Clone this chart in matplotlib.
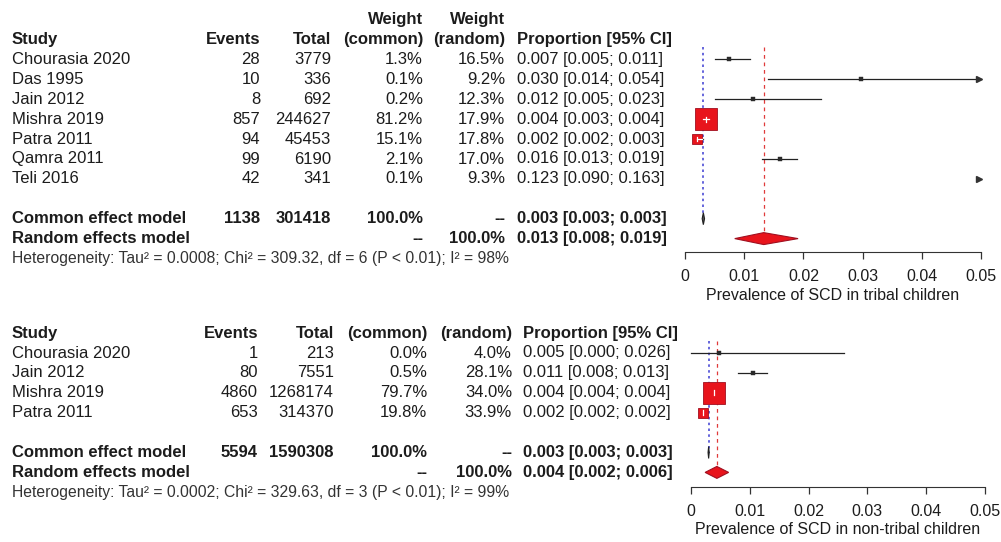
import numpy as np
import matplotlib
matplotlib.use("Agg")
import matplotlib.pyplot as plt
from matplotlib.patches import Polygon

plt.rcParams['font.family'] = ['Liberation Sans', 'DejaVu Sans']

# ---- data: tribal children ----
tr_study = ["Chourasia 2020", "Das 1995", "Jain 2012", "Mishra 2019",
            "Patra 2011", "Qamra 2011", "Teli 2016"]
tr_events = [28, 10, 8, 857, 94, 99, 42]
tr_total = [3779, 336, 692, 244627, 45453, 6190, 341]
tr_w_common = [1.3, 0.1, 0.2, 81.2, 15.1, 2.1, 0.1]
tr_w_random = [16.5, 9.2, 12.3, 17.9, 17.8, 17.0, 9.3]
tr_lower = [0.005, 0.014, 0.005, 0.003, 0.002, 0.013, 0.090]
tr_upper = [0.011, 0.054, 0.023, 0.004, 0.003, 0.019, 0.163]
tr_common = (0.0031, 0.0029, 0.0033)     # estimate, lower, upper
tr_random = (0.0133, 0.0084, 0.0191)
tr_het = "Heterogeneity: Tau² = 0.0008; Chi² = 309.32, df = 6 (P < 0.01); I² = 98%"
tr_label = "Prevalence of SCD in tribal children"

# ---- data: non-tribal children ----
nt_study = ["Chourasia 2020", "Jain 2012", "Mishra 2019", "Patra 2011"]
nt_events = [1, 80, 4860, 653]
nt_total = [213, 7551, 1268174, 314370]
nt_w_common = [0.0, 0.5, 79.7, 19.8]
nt_w_random = [4.0, 28.1, 34.0, 33.9]
nt_lower = [0.000, 0.008, 0.004, 0.002]
nt_upper = [0.026, 0.013, 0.004, 0.002]
nt_common = (0.0030, 0.0029, 0.0031)
nt_random = (0.0044, 0.0024, 0.0064)
nt_het = "Heterogeneity: Tau² = 0.0002; Chi² = 329.63, df = 3 (P < 0.01); I² = 99%"
nt_label = "Prevalence of SCD in non-tribal children"

x_ticks = [0, 0.01, 0.02, 0.03, 0.04, 0.05]
x_ticklabels = ["0", "0.01", "0.02", "0.03", "0.04", "0.05"]

W, H = 1001, 542
FS = 12
TXT = '#1c1c1c'
RED = '#e8141c'

fig = plt.figure(figsize=(W / 100, H / 100), dpi=100)
tx = fig.add_axes([0, 0, 1, 1])
tx.set_xlim(0, W)
tx.set_ylim(H, 0)
tx.axis('off')


def fmt_ci(e, l, u):
    return "%.3f [%.3f; %.3f]" % (e, l, u)


def panel(study, events, total, wcom, wran, lower, upper, common, random_, het, label,
          y0, cols, x0, x1, axis_px, weight_row):
    step = 19.9
    n = len(study)
    props = [e / t for e, t in zip(events, total)]
    xs, xe, xt, xc, xr, xp = cols
    bold = dict(fontsize=FS, fontweight='bold', color=TXT, va='center')
    norm = dict(fontsize=FS, color=TXT, va='center')
    # header
    hy = y0 - step
    if weight_row:
        tx.text(xc, hy - step, "Weight", ha='right', **bold)
        tx.text(xr, hy - step, "Weight", ha='right', **bold)
    tx.text(xs, hy, "Study", ha='left', **bold)
    tx.text(xe, hy, "Events", ha='right', **bold)
    tx.text(xt, hy, "Total", ha='right', **bold)
    tx.text(xc, hy, "(common)", ha='right', **bold)
    tx.text(xr, hy, "(random)", ha='right', **bold)
    tx.text(xp, hy, "Proportion [95% CI]", ha='left', **bold)
    for i in range(n):
        y = y0 + step * i
        tx.text(xs, y, study[i], ha='left', **norm)
        tx.text(xe, y, str(events[i]), ha='right', **norm)
        tx.text(xt, y, str(total[i]), ha='right', **norm)
        tx.text(xc, y, "%.1f%%" % wcom[i], ha='right', **norm)
        tx.text(xr, y, "%.1f%%" % wran[i], ha='right', **norm)
        tx.text(xp, y, fmt_ci(props[i], lower[i], upper[i]), ha='left', **norm)
    yc = y0 + step * (n + 1)
    yr = y0 + step * (n + 2)
    tx.text(xs, yc, "Common effect model", ha='left', **bold)
    tx.text(xe, yc, str(sum(events)), ha='right', **bold)
    tx.text(xt, yc, str(sum(total)), ha='right', **bold)
    tx.text(xc, yc, "100.0%", ha='right', **bold)
    tx.text(xr, yc, "--", ha='right', **bold)
    tx.text(xp, yc, fmt_ci(*common), ha='left', **bold)
    tx.text(xs, yr, "Random effects model", ha='left', **bold)
    tx.text(xc, yr, "--", ha='right', **bold)
    tx.text(xr, yr, "100.0%", ha='right', **bold)
    tx.text(xp, yr, fmt_ci(*random_), ha='left', **bold)
    tx.text(xs, y0 + step * (n + 3), het, ha='left', va='center', fontsize=11.3, color='#333333')
    tx.text((x0 + x1) / 2, axis_px + 43, label, ha='center', va='center', fontsize=11.5, color=TXT)

    # forest part
    pad = 8
    xmax = 0.05
    ppu = (x1 - x0) / xmax
    top_px = y0 - step - 6
    ax = fig.add_axes([(x0 - pad) / W, 1 - axis_px / H, (x1 - x0 + 2 * pad) / W, (axis_px - top_px) / H])
    ax.set_xlim(-pad / ppu, xmax + pad / ppu)
    ax.set_ylim((axis_px - y0) / step, (top_px - y0) / step)
    ax.patch.set_visible(False)
    for s in ['top', 'left', 'right']:
        ax.spines[s].set_visible(False)
    ax.spines['bottom'].set_bounds(0, xmax)
    ax.spines['bottom'].set_color('#333333')
    ax.set_yticks([])
    ax.set_xticks(x_ticks)
    ax.set_xticklabels(x_ticklabels)
    ax.tick_params(axis='x', length=5, width=0.9, color='#333333', pad=7, labelsize=11.5, labelcolor=TXT)

    r_top = (y0 - 12 - y0) / step
    ax.plot([common[0]] * 2, [r_top, n + 1], color='#4b4bd6', ls=(0, (1.5, 2.0)), lw=1.2, zorder=1)
    ax.plot([random_[0]] * 2, [r_top, n + 2], color='#e03a3a', ls=(0, (3, 3)), lw=0.9, zorder=1)

    wmax = max(wcom)
    for i in range(n):
        e, lo, hi = props[i], lower[i], upper[i]
        side = max(3.8, 22 * np.sqrt(wcom[i] / wmax))
        half = side / 2 / ppu
        if lo < xmax:
            ax.plot([lo, min(hi, xmax)], [i, i], color='#222222', lw=0.9, zorder=2)
        if hi > xmax:
            ax.plot([xmax - 0.0003], [i], marker='>', ms=4, color='#333333', zorder=2)
        if e < xmax:
            big = side > 6
            ax.plot([e], [i], marker='s', ms=side * 0.72, mfc=RED if big else '#2a2a2a',
                    mec='#a01020' if big else '#2a2a2a', mew=0.6 if big else 0.3, zorder=3)
            if big:
                ax.plot([max(lo, e - half), min(hi, e + half)], [i, i], color='white', lw=0.9, zorder=4)
                ax.plot([e, e], [i - 0.12, i + 0.12], color='white', lw=0.9, zorder=4)

    def diamond(row, est, lo, hi, fc, ec):
        h = 0.3
        ax.add_patch(Polygon([(lo, row), (est, row - h), (hi, row), (est, row + h)],
                             closed=True, fc=fc, ec=ec, lw=0.8, zorder=3))

    diamond(n + 1, common[0], common[1], common[2], '#555555', '#222222')
    diamond(n + 2, random_[0], random_[1], random_[2], RED, '#a01020')


panel(tr_study, tr_events, tr_total, tr_w_common, tr_w_random, tr_lower, tr_upper,
      tr_common, tr_random, tr_het, tr_label,
      y0=59.5, cols=(12, 260, 331, 423, 505, 517), x0=685, x1=981, axis_px=252, weight_row=True)
panel(nt_study, nt_events, nt_total, nt_w_common, nt_w_random, nt_lower, nt_upper,
      nt_common, nt_random, nt_het, nt_label,
      y0=353, cols=(12, 258, 334, 427, 512, 523), x0=691, x1=985, axis_px=487, weight_row=False)

fig.savefig("out.png", dpi=100, facecolor='white')
